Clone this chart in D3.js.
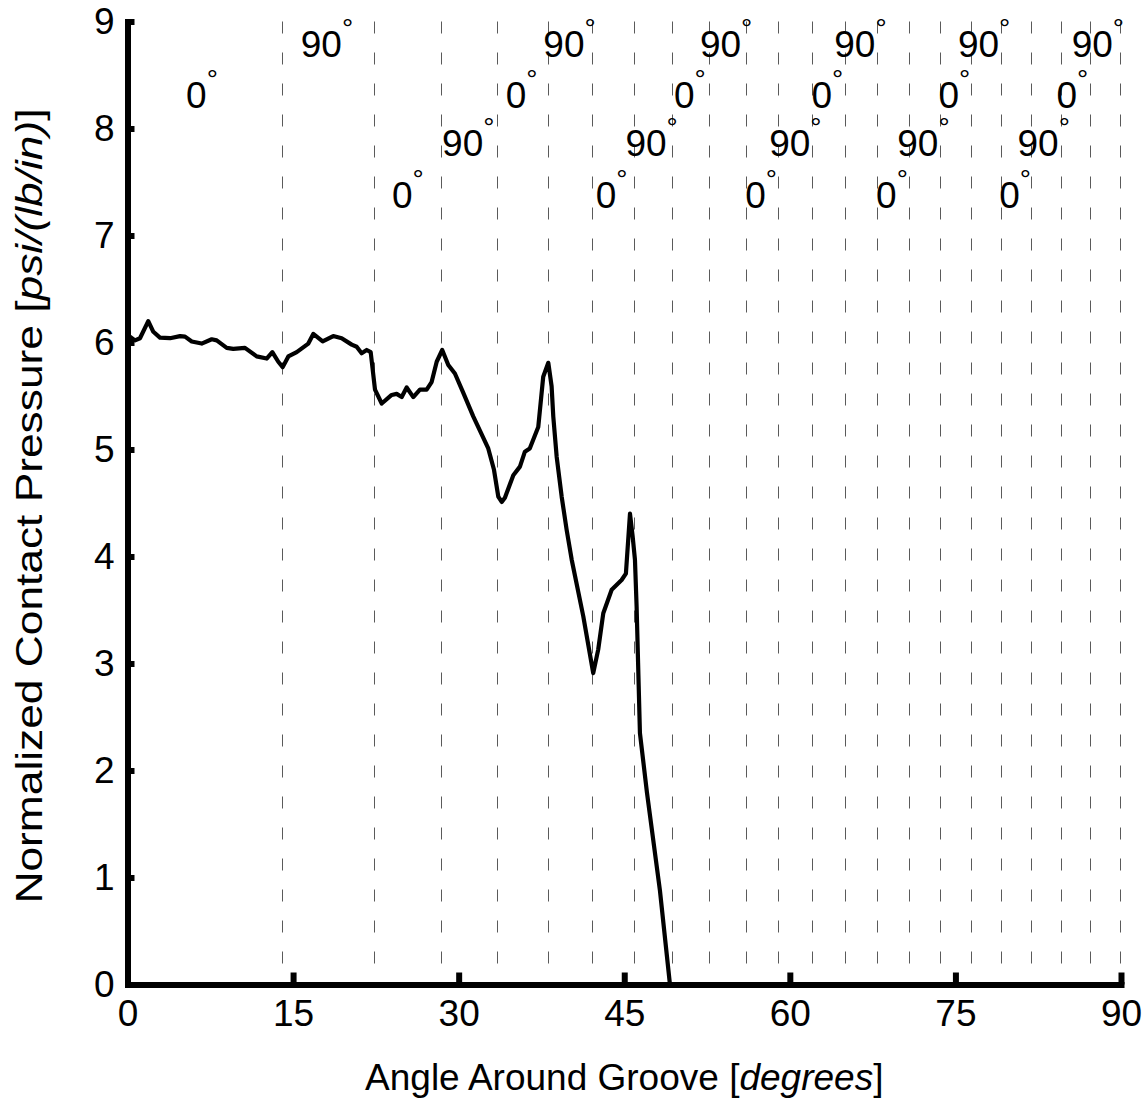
<!DOCTYPE html>
<html>
<head>
<meta charset="utf-8">
<script src="https://cdnjs.cloudflare.com/ajax/libs/d3/7.8.5/d3.min.js"></script>
<style>
  html, body { margin: 0; padding: 0; background: #fff; }
  svg { display: block; }
  text { font-family: "Liberation Sans", Arial, Helvetica, sans-serif; fill: #000; }
</style>
</head>
<body>
<svg id="chart" width="1148" height="1104"></svg>
<script>
// Angle around the groove (degrees) and normalized contact pressure
const angle = [
  0, 0.68, 1.13, 1.88, 2.34, 2.94, 3.85, 4.76, 5.21, 5.82, 6.72, 7.63, 8.08, 8.99, 9.58,
  10.64, 11.7, 12.61, 13.12, 13.66, 14.06, 14.57, 15.33, 16.38, 16.83, 17.68, 18.64, 19.4,
  20.31, 20.76, 21.21, 21.67, 22.03, 22.42, 23.03, 23.93, 24.38, 24.84, 25.29, 25.89, 26.49,
  27.1, 27.55, 28.01, 28.51, 29.06, 29.66, 30.42, 31.32, 32.68, 33.2, 33.59, 33.9, 34.19, 34.95,
  35.55, 36.0, 36.44, 37.21, 37.66, 38.12, 38.42, 38.57, 38.88, 39.33, 39.78, 40.24, 41.29,
  42.19, 42.64, 43.1, 43.86, 44.76, 45.15, 45.52, 45.76, 45.97, 46.12, 46.42, 47.05, 48.23,
  49.14
];
const pressure = [
  6.07, 6.02, 6.04, 6.20, 6.10, 6.045, 6.04, 6.06, 6.055, 6.01, 5.99, 6.03, 6.02, 5.95, 5.94,
  5.95, 5.87, 5.85, 5.91, 5.82, 5.77, 5.87, 5.91, 5.99, 6.08, 6.01, 6.06, 6.04,
  5.98, 5.96, 5.90, 5.93, 5.91, 5.56, 5.43, 5.51, 5.52, 5.49, 5.58, 5.49, 5.56,
  5.56, 5.63, 5.82, 5.93, 5.79, 5.71, 5.53, 5.31, 5.01, 4.81, 4.56, 4.51, 4.55, 4.76,
  4.84, 4.98, 5.01, 5.21, 5.68, 5.81, 5.59, 5.31, 4.93, 4.56, 4.25, 3.97, 3.44,
  2.91, 3.13, 3.47, 3.69, 3.78, 3.84, 4.40, 4.19, 3.97, 3.53, 2.35, 1.80, 0.88,
  0
];

// Ply boundaries (dashed verticals) along the groove
const plyBoundaries = [
  13.99, 22.33, 28.4, 33.47, 38.09, 42.07, 45.88, 49.32, 52.67, 56.02, 58.92,
  62.0, 64.99, 67.89, 70.79, 73.6, 76.4, 79.12, 81.84, 84.56, 87.19, 89.9
];

// Ply orientation labels: text, angle position, pressure-level baseline
const plyLabels = [
  "0", "90", "0", "90", "0", "90", "0", "90", "0", "90", "0",
  "90", "0", "90", "0", "90", "0", "90", "0", "90", "0", "90"
];
const plyLabelAngles = [
  6.75, 18.07, 25.4, 30.87, 35.7, 40.04, 43.86, 47.48, 50.95, 54.23, 57.4,
  60.5, 63.4, 66.4, 69.25, 72.1, 74.9, 77.6, 80.4, 83.0, 85.6, 87.9
];
const plyLabelLevels = [
  8.19, 8.67, 7.26, 7.74, 8.19, 8.67, 7.26, 7.74, 8.19, 8.67, 7.26,
  7.74, 8.19, 8.67, 7.26, 7.74, 8.19, 8.67, 7.26, 7.74, 8.19, 8.67
];

const angleTicks = [0, 15, 30, 45, 60, 75, 90];
const pressureTicks = [0, 1, 2, 3, 4, 5, 6, 7, 8, 9];

const svg = d3.select("#chart");
const FONT = 37;

const x = d3.scaleLinear().domain([0, 90]).range([127.5, 1121]);
const y = d3.scaleLinear().domain([0, 9]).range([984.5, 21.5]);

// dashed ply boundaries
svg.append("g")
  .selectAll("line")
  .data(plyBoundaries)
  .join("line")
  .attr("x1", d => Math.round(x(d)) + 0.5)
  .attr("x2", d => Math.round(x(d)) + 0.5)
  .attr("y1", y(9))
  .attr("y2", y(0))
  .attr("stroke", "#5a5a5a")
  .attr("stroke-width", 1)
  .attr("stroke-dasharray", "12,19");

// ply orientation labels
const labels = svg.append("g")
  .selectAll("text")
  .data(plyLabels)
  .join("text")
  .attr("x", (d, i) => x(plyLabelAngles[i]))
  .attr("y", (d, i) => y(plyLabelLevels[i]))
  .attr("text-anchor", "middle")
  .style("font-size", FONT + "px");
labels.append("tspan").text(d => d);
labels.append("tspan")
  .attr("dy", -19)
  .style("font-size", "28px")
  .text("\u00B0");

// pressure curve
const pts = angle.map((a, i) => [a, pressure[i]]);
svg.append("path")
  .datum(pts)
  .attr("fill", "none")
  .attr("stroke", "#000")
  .attr("stroke-width", 4.2)
  .attr("stroke-linejoin", "round")
  .attr("d", d3.line().x(d => x(d[0])).y(d => y(d[1])));

// axes
const xAxis = d3.axisBottom(x)
  .tickValues(angleTicks)
  .tickFormat(d3.format("d"))
  .tickSizeInner(-12)
  .tickSizeOuter(0)
  .tickPadding(15.5);
const yAxis = d3.axisLeft(y)
  .tickValues(pressureTicks)
  .tickFormat(d3.format("d"))
  .tickSizeInner(-7)
  .tickSizeOuter(0)
  .tickPadding(13);

const gx = svg.append("g").attr("transform", `translate(0,${y(0)})`).call(xAxis);
const gy = svg.append("g").attr("transform", `translate(${x(0)},0)`).call(yAxis);

[gx, gy].forEach(g => {
  g.select(".domain").attr("stroke", "#000").attr("stroke-width", 6).attr("stroke-linecap", "square");
  g.selectAll(".tick line").attr("stroke", "#000").attr("stroke-width", 6);
  g.selectAll(".tick text")
    .style("font-size", FONT + "px")
    .style("font-family", "'Liberation Sans', Arial, sans-serif")
    .attr("fill", "#000");
});
gx.selectAll(".tick").filter(d => d === 0).select("line").remove();

// axis titles
const xt = svg.append("text")
  .attr("x", (x(0) + x(90)) / 2)
  .attr("y", 1090)
  .attr("text-anchor", "middle")
  .style("font-size", FONT + "px");
xt.append("tspan").text("Angle Around Groove [");
xt.append("tspan").style("font-style", "italic").text("degrees");
xt.append("tspan").text("]");

const yt = svg.append("text")
  .attr("transform", `translate(42,${(y(0) + y(9)) / 2 + 3}) rotate(-90)`)
  .attr("text-anchor", "middle")
  .attr("textLength", 795)
  .attr("lengthAdjust", "spacingAndGlyphs")
  .style("font-size", FONT + "px");
yt.append("tspan").text("Normalized Contact Pressure [");
yt.append("tspan").style("font-style", "italic").text("psi/(lb/in)");
yt.append("tspan").text("]");
</script>
</body>
</html>
